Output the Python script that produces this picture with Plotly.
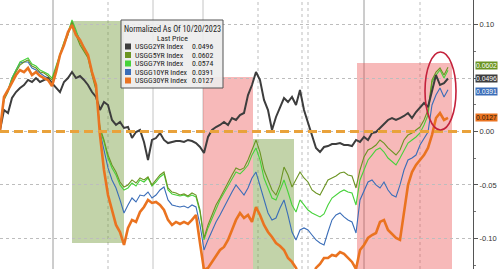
import plotly.graph_objects as go

# values in thousandths (x1e-3) of normalized change; one point per step
names = ["USGG2YR Index", "USGG5YR Index", "USGG7YR Index", "USGG10YR Index", "USGG30YR Index"]
last_price = ["0.0496", "0.0602", "0.0574", "0.0391", "0.0127"]

y2 = [1.4, 20.1, 17.3, 31.3, 36.9, 40.7, 43.5, 48.2, 46.3, 50.0,
      46.3, 48.2, 50.0, 45.3, 40.7, 36.9, 46.3, 50.0, 55.6, 50.0,
      51.9, 48.2, 43.5, 36.9, 32.3, 20.1, 27.6, 24.8, 10.8, 6.1,
      8.9, 3.3, 4.2, -6.1, -0.5, 1.4, -9.8, -26.6, -7.9, -6.1,
      -1.4, -7.9, -10.8, -9.8, -8.9, -8.9, -9.8, -7.9, -8.9, -10.8,
      -14.5, -20.1, -5.1, 1.4, 4.2, 6.1, 8.9, 6.1, 12.6, 10.8,
      15.4, 17.3, 34.1, 43.5, 55.6, 48.2, 29.5, 20.1, 1.4, 13.6,
      22.0, 31.3, 27.6, 32.3, 24.8, 38.8, 20.1, 8.9, -3.3, -15.4,
      -19.2, -14.5, -13.6, -11.7, -11.7, -10.8, -12.6, -12.6, -13.6, -7.9,
      -9.8, -5.1, -7.9, -1.4, -0.5, 3.3, 7.0, 10.8, 12.6, 10.8,
      12.6, 14.5, 17.3, 12.6, 18.2, 22.0, 26.6, 22.9, 38.8, 52.8,
      43.5, 45.3, 49.6]

y5 = [1.4, 29.5, 36.9, 48.2, 55.6, 62.2, 65.0, 66.9, 61.2, 59.4,
      55.6, 54.7, 51.9, 48.2, 59.4, 71.5, 80.9, 90.2, 102.4, 90.2,
      80.9, 74.3, 68.7, 52.8, 38.8, 3.3, -7.9, -22.0, -31.3, -37.9,
      -47.2, -51.9, -50.0, -45.3, -48.2, -43.5, -45.3, -42.5, -50.0, -45.3,
      -40.7, -37.9, -52.8, -56.6, -57.5, -59.4, -58.4, -60.3, -57.5, -59.4,
      -73.4, -99.6, -87.4, -78.1, -68.7, -62.2, -54.7, -47.2, -40.7, -34.1,
      -36.0, -34.1, -26.6, -17.3, -7.9, -19.2, -36.0, -45.3, -54.7, -59.4,
      -50.0, -33.2, -40.7, -51.9, -45.3, -37.9, -43.5, -47.2, -54.7, -57.5,
      -59.4, -52.8, -45.3, -43.5, -41.6, -38.8, -37.9, -40.7, -41.6, -52.8,
      -36.0, -23.8, -17.3, -15.4, -12.6, -7.9, -10.8, -15.4, -19.2, -22.0,
      -17.3, -7.9, -3.3, -1.4, 1.4, 4.2, 10.8, 20.1, 48.2, 55.6,
      59.4, 52.8, 60.2]

y7 = [1.4, 31.3, 38.8, 50.0, 57.5, 65.0, 66.9, 68.7, 63.1, 61.2,
      57.5, 55.6, 53.8, 50.0, 61.2, 73.4, 83.7, 93.0, 104.3, 94.9,
      83.7, 76.2, 70.6, 55.6, 40.7, 1.4, -9.8, -24.8, -34.1, -40.7,
      -50.0, -54.7, -52.8, -48.2, -51.0, -45.3, -47.2, -43.5, -51.0, -47.2,
      -42.5, -39.7, -54.7, -58.4, -59.4, -60.3, -59.4, -61.2, -59.4, -61.2,
      -75.3, -101.4, -90.2, -80.9, -71.5, -64.0, -57.5, -51.0, -43.5, -37.9,
      -39.7, -36.0, -31.3, -22.0, -15.4, -26.6, -43.5, -52.8, -62.2, -64.0,
      -54.7, -45.3, -56.6, -68.7, -75.3, -64.0, -68.7, -73.4, -76.2, -78.1,
      -79.9, -77.1, -68.7, -62.2, -59.4, -56.6, -54.7, -56.6, -57.5, -68.7,
      -45.3, -36.0, -26.6, -22.0, -17.3, -15.4, -19.2, -24.8, -28.5, -31.3,
      -24.8, -17.3, -10.8, -7.9, -5.1, -1.4, 6.1, 15.4, 46.3, 52.8,
      57.5, 50.0, 57.4]

y10 = [1.4, 32.3, 38.8, 50.0, 57.5, 64.0, 65.0, 65.0, 59.4, 57.5,
       54.7, 51.9, 50.0, 44.4, 57.5, 71.5, 81.8, 92.1, 102.4, 93.0,
       85.6, 78.1, 71.5, 55.6, 40.7, -0.5, -17.3, -34.1, -45.3, -52.8,
       -64.0, -76.2, -68.7, -62.2, -65.9, -59.4, -60.3, -56.6, -62.2, -59.4,
       -54.7, -51.9, -64.0, -68.7, -69.7, -70.6, -69.7, -71.5, -68.7, -70.6,
       -87.4, -110.8, -101.4, -92.1, -84.6, -78.1, -70.6, -64.0, -56.6, -50.0,
       -54.7, -59.4, -52.8, -43.5, -37.9, -50.0, -64.0, -76.2, -82.7, -80.9,
       -71.5, -64.0, -78.1, -94.0, -101.4, -92.1, -90.2, -92.1, -96.8, -101.4,
       -104.3, -106.1, -94.0, -82.7, -78.1, -76.2, -79.9, -82.7, -84.6, -94.9,
       -64.0, -54.7, -47.2, -45.3, -50.0, -52.8, -47.2, -54.7, -59.4, -61.2,
       -50.0, -36.0, -26.6, -24.8, -22.0, -12.6, -6.1, -0.5, 24.8, 34.1,
       40.7, 32.3, 39.1]

y30 = [1.4, 32.3, 38.8, 46.3, 52.8, 57.5, 55.6, 59.4, 52.8, 55.6,
       51.9, 50.0, 48.2, 42.5, 55.6, 71.5, 80.9, 93.0, 99.6, 90.2,
       85.6, 78.1, 71.5, 55.6, 43.5, -3.3, -36.0, -59.4, -73.4, -87.4,
       -94.0, -106.1, -90.2, -82.7, -84.6, -75.3, -70.6, -64.0, -66.8, -65.9,
       -68.7, -73.4, -82.7, -87.4, -84.6, -86.5, -84.6, -86.5, -82.7, -78.1,
       -104.3, -129.5, -127.6, -122.0, -115.5, -110.8, -108.0, -101.4, -92.1, -82.7,
       -76.2, -80.9, -78.1, -84.6, -70.6, -78.1, -87.4, -94.0, -98.6, -104.3,
       -107.1, -110.8, -118.3, -122.0, -127.6, -138.8, -148.2, -148.2, -138.8, -127.6,
       -123.9, -118.3, -118.3, -115.5, -116.4, -112.7, -114.5, -118.3, -122.0, -128.6,
       -110.8, -106.1, -99.6, -96.8, -94.9, -84.6, -82.7, -92.1, -95.8, -99.6,
       -101.4, -73.4, -50.0, -37.9, -31.3, -26.6, -22.0, -15.4, -3.3, 12.6,
       17.3, 10.8, 12.7]

ytick_vals = [-0.10, -0.05, 0.00, 0.05, 0.10]
# the 0.05 label is hidden behind the last-value tags in the reference
ytick_text = ["-0.10", "-0.05", "0.00", "", "0.10"]

colors = {"2": "#3d3d3d", "5": "#6b9422", "7": "#46d23a", "10": "#3a6db8", "30": "#ea7320"}

W, H, R = 500, 269, 27
PW = W - R  # plot width in px
def px(xp):
    return xp / PW
def py(yp):
    return 1 - yp / H

fig = go.Figure()
series = [("10", y10, 1.1), ("7", y7, 1.1), ("5", y5, 1.1), ("2", y2, 2.0), ("30", y30, 2.6)]
for key, vals, w in series:
    fig.add_trace(go.Scatter(x=list(range(len(vals))), y=[v / 1000 for v in vals],
                             mode="lines", line=dict(color=colors[key], width=w),
                             hoverinfo="skip"))

shapes = []
shapes.append(dict(type="rect", xref="x", yref="y", x0=18, x1=31, y0=-0.1043, y1=0.1033,
                   fillcolor="rgba(110,150,50,0.42)", line=dict(width=0), layer="below"))
shapes.append(dict(type="rect", xref="x", yref="y", x0=50.75, x1=63.25, y0=-0.2, y1=0.051,
                   fillcolor="rgba(235,80,80,0.40)", line=dict(width=0), layer="below"))
shapes.append(dict(type="rect", xref="x", yref="y", x0=63.25, x1=73.5, y0=-0.2, y1=-0.007,
                   fillcolor="rgba(110,150,50,0.42)", line=dict(width=0), layer="below"))
shapes.append(dict(type="rect", xref="x", yref="y", x0=89.25, x1=113, y0=-0.2, y1=0.064,
                   fillcolor="rgba(235,80,80,0.40)", line=dict(width=0), layer="below"))
for xv in [13.25, 91]:
    shapes.append(dict(type="line", xref="x", yref="paper", x0=xv, x1=xv, y0=0, y1=1,
                       line=dict(color="#9a9a9a", width=1), layer="below"))
for xv in [38.25, 50.75]:
    shapes.append(dict(type="line", xref="x", yref="paper", x0=xv, x1=xv, y0=0, y1=1,
                       line=dict(color="#c4c4c4", width=1), layer="below"))
for xv in [27, 64.5, 75.5, 77, 105]:
    shapes.append(dict(type="line", xref="x", yref="paper", x0=xv, x1=xv, y0=0, y1=1,
                       line=dict(color="#bdbdbd", width=1, dash="dot"), layer="below"))
shapes.append(dict(type="line", xref="paper", yref="y", x0=0, x1=472 / PW, y0=0, y1=0,
                   line=dict(color="#e9a23b", width=3, dash="9px,5px"), layer="above"))
shapes.append(dict(type="circle", xref="x", yref="y", x0=106.25, x1=114, y0=0.0014, y1=0.0743,
                   line=dict(color="#c4213b", width=1.6)))
shapes.append(dict(type="rect", xref="paper", yref="paper", x0=px(121), x1=px(223),
                   y0=py(88), y1=py(20), fillcolor="rgba(236,236,236,0.9)",
                   line=dict(color="#555555", width=1)))

ann = []
FONT = "Liberation Sans Narrow, Arial Narrow, Roboto Condensed, sans-serif"
FS = 7.8
ann.append(dict(xref="paper", yref="paper", x=px(172), y=py(29.5), text="Normalized As Of 10/20/2023",
                showarrow=False, font=dict(family=FONT, size=8.2, color="#222"), xanchor="center", yanchor="middle"))
ann.append(dict(xref="paper", yref="paper", x=px(172), y=py(38.3), text="Last Price",
                showarrow=False, font=dict(family=FONT, size=FS, color="#222"), xanchor="center", yanchor="middle"))
leg_keys = ["2", "5", "7", "10", "30"]
leg_y = [46.5, 55, 63.5, 72, 80.5]
for k, nm, lp, yy in zip(leg_keys, names, last_price, leg_y):
    shapes.append(dict(type="rect", xref="paper", yref="paper", x0=px(125), x1=px(131),
                       y0=py(yy + 3), y1=py(yy - 3), fillcolor=colors[k], line=dict(width=0)))
    ann.append(dict(xref="paper", yref="paper", x=px(133), y=py(yy), text=nm, showarrow=False,
                    font=dict(family=FONT, size=FS, color="#222"), xanchor="left", yanchor="middle"))
    ann.append(dict(xref="paper", yref="paper", x=px(190), y=py(yy), text=lp, showarrow=False,
                    font=dict(family=FONT, size=FS, color="#222"), xanchor="left", yanchor="middle"))

tags = [("5", y5[-1], "0.0602", "white", 1.5), ("2", y2[-1], "0.0496", "white", 0),
        ("10", y10[-1], "0.0391", "white", -1.5), ("30", y30[-1], "0.0127", "#2a1a0a", 0)]
for k, v, t, fc, sh in tags:
    ann.append(dict(xref="paper", yref="y", x=px(475), y=v / 1000, yshift=sh, text=t, showarrow=False,
                    xanchor="left", yanchor="middle", bgcolor=colors[k], borderpad=0,
                    font=dict(family="Liberation Sans, Arial, sans-serif", size=6.8, color=fc)))

fig.update_layout(
    width=W, height=H, margin=dict(l=0, r=R, t=0, b=0),
    paper_bgcolor="white", plot_bgcolor="white", showlegend=False,
    shapes=shapes, annotations=ann,
    xaxis=dict(range=[0, PW / 4], showticklabels=False, showgrid=False, zeroline=False,
               showline=False, ticks=""),
    yaxis=dict(side="right", range=[-0.1286, 0.1230], tickvals=ytick_vals, ticktext=ytick_text,
               showgrid=True, gridcolor="#bdbdbd", griddash="dot", gridwidth=1, zeroline=False,
               showline=True, linecolor="#555", linewidth=1, ticks="outside", ticklen=4,
               tickcolor="#555", tickfont=dict(family="Liberation Sans, Arial, sans-serif", size=7.5, color="#333"),
               minor=dict(dtick=0.025, ticks="outside", ticklen=2, tickcolor="#777", showgrid=False)),
)

fig.write_html("out.html")
